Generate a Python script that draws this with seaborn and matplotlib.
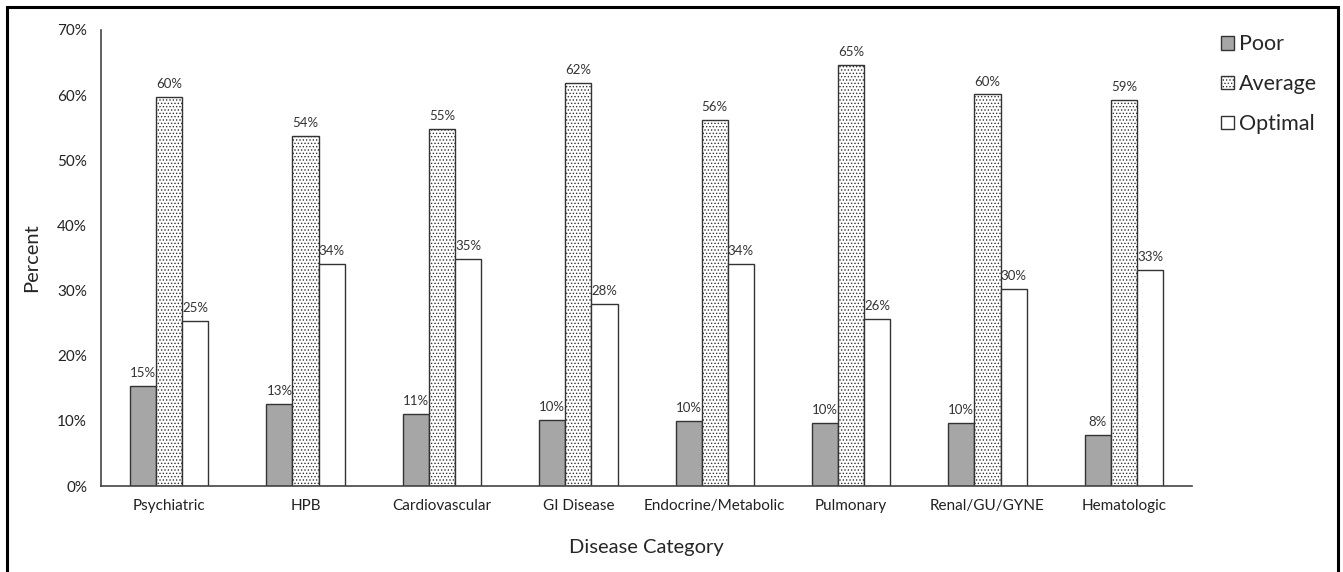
import pandas as pd
import matplotlib
matplotlib.use("Agg")
import matplotlib.pyplot as plt
import seaborn as sns
from matplotlib.patches import Rectangle, Patch
from matplotlib.ticker import PercentFormatter

# Data
categories = ["Psychiatric", "HPB", "Cardiovascular", "GI Disease",
              "Endocrine/Metabolic", "Pulmonary", "Renal/GU/GYNE", "Hematologic"]
poor = [15.3, 12.6, 11.0, 10.2, 10.0, 9.7, 9.7, 7.8]
average = [59.7, 53.8, 54.8, 61.8, 56.2, 64.7, 60.1, 59.2]
optimal = [25.4, 34.1, 34.8, 28.0, 34.1, 25.6, 30.2, 33.1]
levels = ["Poor", "Average", "Optimal"]

df = pd.DataFrame({
    "category": categories * 3,
    "level": ["Poor"] * 8 + ["Average"] * 8 + ["Optimal"] * 8,
    "pct": poor + average + optimal,
})

sns.set_style("white")
plt.rcParams["font.family"] = ["Lato", "DejaVu Sans"]
plt.rcParams["hatch.linewidth"] = 0.6
plt.rcParams["hatch.color"] = "#808080"

colors = {"Poor": "#a6a6a6", "Average": "white", "Optimal": "white"}
hatches = {"Poor": "", "Average": ".....", "Optimal": ""}

fig = plt.figure(figsize=(13.43, 5.72), dpi=100)
ax = fig.add_axes([0.0752, 0.1503, 0.8124, 0.7973])

sns.barplot(data=df, x="category", y="pct", hue="level", hue_order=levels,
            palette=colors, order=categories, width=0.575, ax=ax,
            edgecolor="#333333", linewidth=1.0, legend=False, errorbar=None)

for cont, lvl in zip(ax.containers, levels):
    for bar in cont:
        bar.set_hatch(hatches[lvl])
    ax.bar_label(cont, labels=[f"{v:.0f}%" for v in cont.datavalues],
                 padding=5, fontsize=9.5, color="#333333")

ax.set_ylim(0, 70)
ax.set_xlim(-0.5, len(categories) - 0.5)
ax.yaxis.set_major_formatter(PercentFormatter(decimals=0))
ax.set_yticks(range(0, 71, 10))
ax.tick_params(axis="both", length=0, labelsize=11, colors="#222222")
ax.tick_params(axis="y", pad=10)
ax.tick_params(axis="x", pad=9)
ax.set_ylabel("Percent", fontsize=14.5, labelpad=12)
ax.set_xlabel("Disease Category", fontsize=14.5, labelpad=19)
sns.despine(ax=ax)
for s in ["left", "bottom"]:
    ax.spines[s].set_color("#444444")
    ax.spines[s].set_linewidth(1.2)

handles = [Patch(facecolor=colors[l], edgecolor="#333333", hatch=hatches[l], label=l)
           for l in levels]
fig.legend(handles=handles, loc="upper left", bbox_to_anchor=(0.909, 0.94),
           frameon=False, fontsize=15.5, handlelength=0.6, handleheight=0.6,
           handletextpad=0.25, labelspacing=0.92, borderpad=0, borderaxespad=0)

# outer frame (open at the bottom, as in the screenshot)
fig.patches.append(Rectangle((0.005, -0.05), 0.9913, 1.038, transform=fig.transFigure,
                             fill=False, edgecolor="black", linewidth=2.2))

fig.savefig("out.png", dpi=100)
